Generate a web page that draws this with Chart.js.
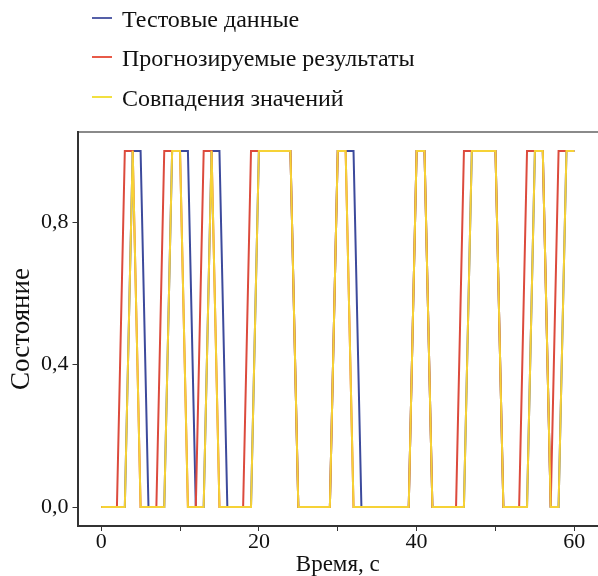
<!DOCTYPE html>
<html>
<head>
<meta charset="utf-8">
<script src="https://cdn.jsdelivr.net/npm/chart.js@4.4.1/dist/chart.umd.min.js"></script>
<style>
  body { margin: 0; background: #fff; }
  #wrap { position: relative; width: 598px; height: 576px; }
  .leg { position: absolute; left: 92px; font: 24px "Liberation Serif", serif; color: #111; white-space: nowrap; line-height: 24px; }
  .leg span.ln { display: inline-block; width: 20px; height: 2px; vertical-align: middle; margin-right: 10px; position: relative; top: -3px; }
</style>
</head>
<body>
<div id="wrap">
  <canvas id="myChart"></canvas>
  <div class="leg" style="top:7px"><span class="ln" style="background:#5560a8"></span>Тестовые данные</div>
  <div class="leg" style="top:46px"><span class="ln" style="background:#e85a48"></span>Прогнозируемые результаты</div>
  <div class="leg" style="top:86px"><span class="ln" style="background:#f2e040"></span>Совпадения значений</div>
</div>
<script>
// time, s
const timeSec = [0, 1, 2, 3, 4, 5, 6, 7, 8, 9,
  10, 11, 12, 13, 14, 15, 16, 17, 18, 19,
  20, 21, 22, 23, 24, 25, 26, 27, 28, 29,
  30, 31, 32, 33, 34, 35, 36, 37, 38, 39,
  40, 41, 42, 43, 44, 45, 46, 47, 48, 49,
  50, 51, 52, 53, 54, 55, 56, 57, 58, 59,
  60];

// test data (blue)
const testData = [0, 0, 0, 0, 1, 1, 0, 0, 0, 1,
  1, 1, 0, 0, 1, 1, 0, 0, 0, 0,
  1, 1, 1, 1, 1, 0, 0, 0, 0, 0,
  1, 1, 1, 0, 0, 0, 0, 0, 0, 0,
  1, 1, 0, 0, 0, 0, 0, 1, 1, 1,
  1, 0, 0, 0, 0, 1, 1, 0, 0, 1,
  1];

// predicted results (red)
const predicted = [0, 0, 0, 1, 1, 0, 0, 0, 1, 1,
  1, 0, 0, 1, 1, 0, 0, 0, 0, 1,
  1, 1, 1, 1, 1, 0, 0, 0, 0, 0,
  1, 1, 0, 0, 0, 0, 0, 0, 0, 0,
  1, 1, 0, 0, 0, 0, 1, 1, 1, 1,
  1, 0, 0, 0, 1, 1, 1, 0, 1, 1,
  1];

// matched values (yellow)
const matches = [0, 0, 0, 0, 1, 0, 0, 0, 0, 1,
  1, 0, 0, 0, 1, 0, 0, 0, 0, 0,
  1, 1, 1, 1, 1, 0, 0, 0, 0, 0,
  1, 1, 0, 0, 0, 0, 0, 0, 0, 0,
  1, 1, 0, 0, 0, 0, 0, 1, 1, 1,
  1, 0, 0, 0, 0, 1, 1, 0, 0, 1,
  1];

const seriesNames = ['Тестовые данные', 'Прогнозируемые результаты', 'Совпадения значений'];
const xTickLabels = [0, 20, 40, 60];
const yTickLabels = [0, 0.4, 0.8];

function toPoints(vals) {
  return vals.map((v, i) => ({ x: timeSec[i], y: v }));
}

const serif = '"Liberation Serif", serif';

document.addEventListener('DOMContentLoaded', function() {
  const ctx = document.getElementById('myChart').getContext('2d');

  new Chart(ctx, {
    type: 'line',
    data: {
      datasets: [
        { label: seriesNames[0], data: toPoints(testData), borderColor: '#3c4a9c', borderWidth: 2, pointRadius: 0, order: 3 },
        { label: seriesNames[1], data: toPoints(predicted), borderColor: '#dc4a3c', borderWidth: 2, pointRadius: 0, order: 2 },
        { label: seriesNames[2], data: toPoints(matches), borderColor: '#f6d236', borderWidth: 2, pointRadius: 0, order: 1 }
      ]
    },
    options: {
      responsive: true,
      maintainAspectRatio: false,
      animation: false,
      layout: { padding: { left: 8, top: 124, right: 0, bottom: 0 } },
      plugins: { legend: { display: false }, tooltip: { enabled: false } },
      scales: {
        x: {
          type: 'linear',
          min: -3,
          max: 63,
          border: { color: '#333', width: 2 },
          grid: { drawOnChartArea: false, tickLength: 5, color: '#333' },
          ticks: {
            stepSize: 10,
            includeBounds: false,
            maxRotation: 0,
            padding: 0,
            color: '#111',
            font: { family: serif, size: 22, lineHeight: 1 },
            callback: v => xTickLabels.includes(v) ? String(v) : ''
          },
          title: { display: true, text: 'Время, с', color: '#111', font: { family: serif, size: 23, lineHeight: 1 }, padding: { top: 0, bottom: 0 } }
        },
        x2: {
          type: 'linear',
          position: 'top',
          min: -3,
          max: 63,
          border: { color: '#8a8a8a', width: 2 },
          grid: { display: false },
          ticks: { display: false }
        },
        y: {
          min: -0.053,
          max: 1.053,
          border: { color: '#333', width: 2 },
          grid: { drawOnChartArea: false, tickLength: 5, color: '#333' },
          afterBuildTicks: axis => { axis.ticks = yTickLabels.map(v => ({ value: v })); },
          ticks: {
            padding: 4,
            color: '#111',
            font: { family: serif, size: 22 },
            callback: v => v.toFixed(1).replace('.', ',')
          },
          title: { display: true, text: 'Состояние', color: '#111', font: { family: serif, size: 27, lineHeight: 1 }, padding: { top: 0, bottom: 2 } }
        }
      }
    }
  });
});
</script>
</body>
</html>
